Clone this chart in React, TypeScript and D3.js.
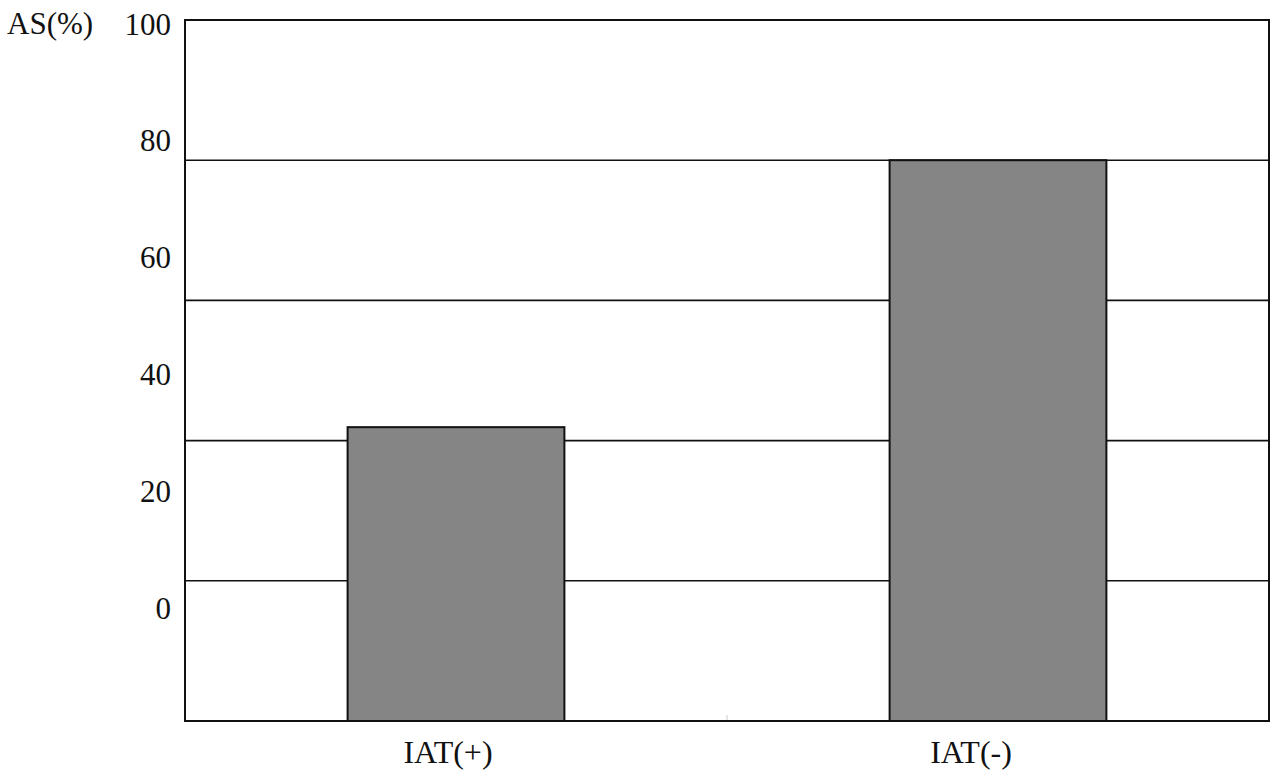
import React from "react";
import * as d3 from "d3";

const categories = ["IAT(+)", "IAT(-)"];
const values = [30.3, 76];
const tickValues = [0, 20, 40, 60, 80, 100];
const yAxisTitle = "AS(%)";
const gridCount = 5;

export default function App() {
  const width = 1280;
  const height = 776;
  const left = 185, right = 1269, top = 20, bottom = 721;

  const x = d3.scaleBand<string>().domain(categories).range([left, right]).paddingInner(0.6).paddingOuter(0.3);
  const y = d3.scaleLinear().domain([-20, 100]).range([bottom, top]);
  const gridVals = d3.range(1, gridCount).map((i) => -20 + (120 * i) / gridCount);
  const labelShift = [-8, -27];

  return (
    <div style={{ position: "absolute", left: 0, top: 0 }}>
      <svg width={width} height={height} style={{ display: "block", background: "#fff" }} fontFamily="'Liberation Serif', 'DejaVu Serif', serif">
        {gridVals.map((g, i) => (
          <line key={i} x1={left} x2={right} y1={y(g)} y2={y(g)} stroke="#111" strokeWidth={1.6} />
        ))}
        {categories.map((c, i) => (
          <rect key={c} x={x(c)!} y={y(values[i])} width={x.bandwidth()} height={y(-20) - y(values[i])} fill="#858585" stroke="#111" strokeWidth={2} />
        ))}
        <line x1={(left + right) / 2} x2={(left + right) / 2} y1={bottom - 6} y2={bottom} stroke="#ccc" strokeWidth={1} />
        <rect x={left} y={top} width={right - left} height={bottom - top} fill="none" stroke="#111" strokeWidth={2} />
        {tickValues.map((t) => (
          <text key={t} x={171} y={y(t) + 14.5} textAnchor="end" fontSize={31} fill="#111">
            {t}
          </text>
        ))}
        <text x={7} y={34} fontSize={31} fill="#111">{yAxisTitle}</text>
        {categories.map((c, i) => (
          <text key={c} x={x(c)! + x.bandwidth() / 2 + labelShift[i]} y={763} textAnchor="middle" fontSize={32} fill="#111">
            {c}
          </text>
        ))}
      </svg>
    </div>
  );
}
